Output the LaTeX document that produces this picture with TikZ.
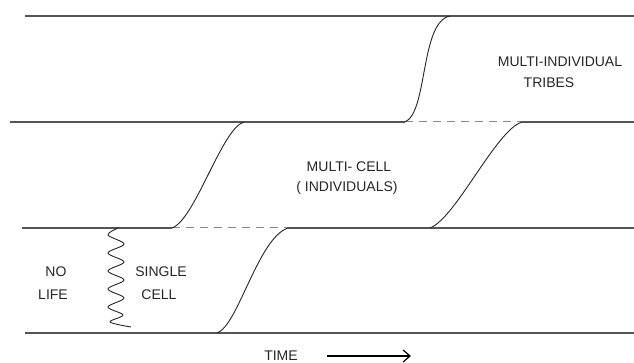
\documentclass[tikz,border=0pt]{standalone}
\usepackage{fontspec}
\setmainfont{Liberation Sans}
\usetikzlibrary{arrows.meta,positioning}
\definecolor{scanline}{HTML}{555555}

\begin{document}
\begin{tikzpicture}[
    x=0.5pt, y=-0.5pt,
    band/.style={draw=scanline, line width=0.7pt},
    gap/.style={draw=scanline!70, line width=0.5pt, dash pattern=on 4pt off 3pt},
    rise/.style={draw=black!85, line width=0.45pt},
    lbl/.style={inner sep=0pt, font=\fontsize{7}{8.4}\selectfont, text=black!85},
    timearrow/.style={-{Straight Barb[length=3.5pt, width=6pt]}, line width=0.6pt}
]
\useasboundingbox (0,0) rectangle (634,363);

% band boundaries
\draw[band] (25,16) -- (634,16);
\draw[band] (10,122) -- (405,122);
\draw[gap]  (405,122) -- (522,122);
\draw[band] (522,122) -- (634,122);
\draw[band] (22,228) -- (172,228);
\draw[gap]  (172,228) -- (288,228);
\draw[band] (288,228) -- (634,228);
\draw[band] (25,333) -- (634,333);

% transitions
\draw[rise] plot[smooth, tension=0.55] coordinates {
    (118,228) (108,235) (124,244) (108,253) (124,262) (108,271)
    (124,280) (108,289) (124,298) (108,307) (123,315) (110,322) (131,327)};
\draw[rise] (217,333) .. controls (238,326) and (258,238) .. (288,228);
\draw[rise] (172,228) .. controls (195,220) and (222,128) .. (244,122);
\draw[rise] (430,228) .. controls (456,218) and (496,130) .. (522,122);
\draw[rise] (405,122) .. controls (428,112) and (420,22) .. (450,16);

% labels
\node[lbl] (tribes1) at (560,62) {MULTI-INDIVIDUAL};
\node[lbl] (tribes2) at (549,83) {TRIBES};
\node[lbl] (cell1) at (349,167) {MULTI- CELL};
\node[lbl] (cell2) at (347,188) {( INDIVIDUALS)};
\node[lbl] (nolife1) at (56,272) {NO};
\node[lbl] (nolife2) at (53,295) {LIFE};
\node[lbl] (single1) at (161,272) {SINGLE};
\node[lbl] (single2) at (159,295) {CELL};
\node[lbl] (time) at (281,356) {TIME};
\coordinate (time end) at (411,356);
\draw[timearrow] (time.east) ++(29,0) coordinate (time start) -- (time end);
\end{tikzpicture}
\end{document}
